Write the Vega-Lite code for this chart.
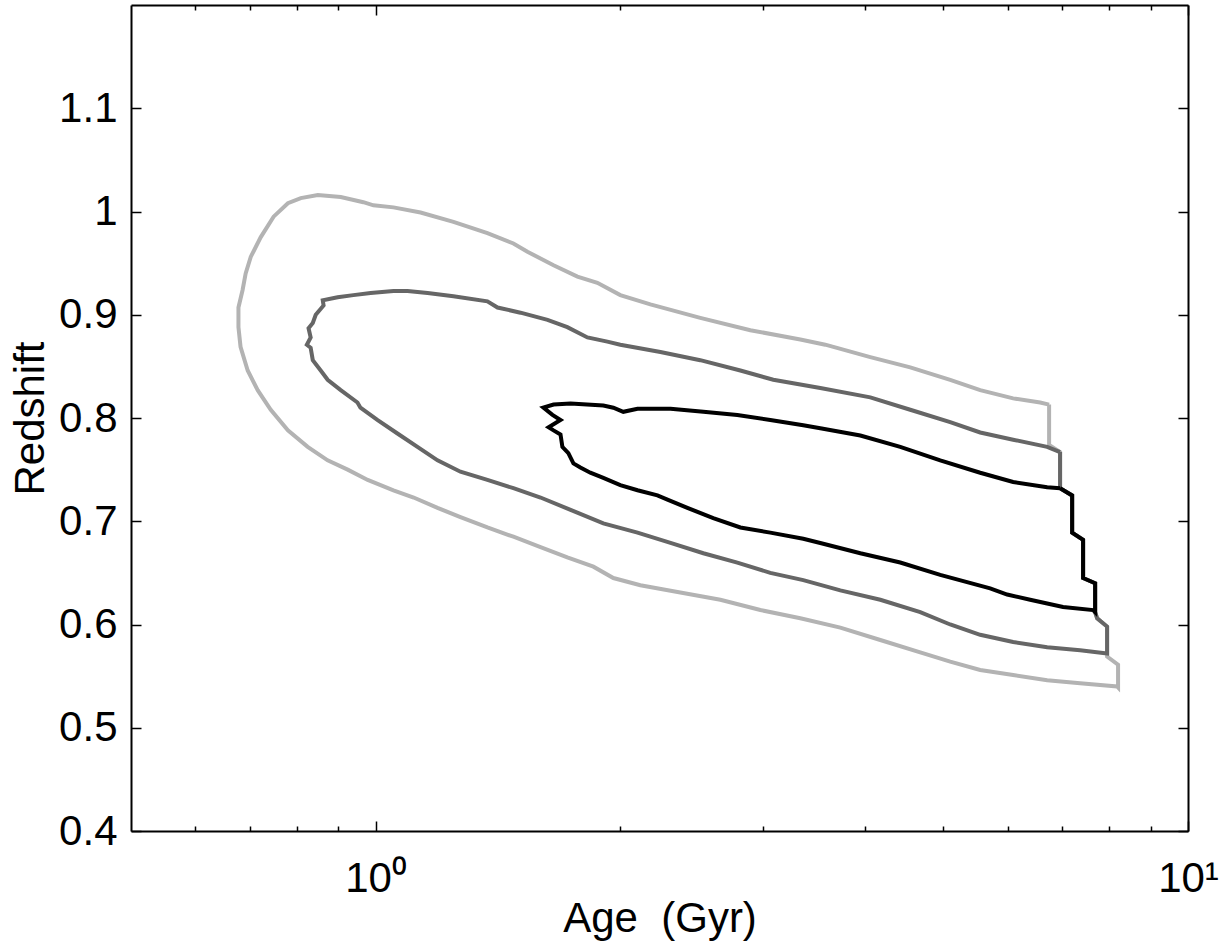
{
  "$schema": "https://vega.github.io/schema/vega-lite/v6.json",
  "width": 1057,
  "height": 826,
  "autosize": {"type": "none"},
  "padding": {"left": 131, "top": 5, "right": 37, "bottom": 118},
  "background": "white",
  "config": {"view": {"stroke": null}, "font": "Liberation Sans"},
  "data": {"name": "contours"},
  "datasets": {
    "contours": [
      {"c": "outer", "i": 1, "age": 6.746, "z": 0.813},
      {"c": "outer", "i": 2, "age": 6.577, "z": 0.815},
      {"c": "outer", "i": 3, "age": 6.092, "z": 0.819},
      {"c": "outer", "i": 4, "age": 5.549, "z": 0.827},
      {"c": "outer", "i": 5, "age": 5.097, "z": 0.837},
      {"c": "outer", "i": 6, "age": 4.551, "z": 0.849},
      {"c": "outer", "i": 7, "age": 4.064, "z": 0.859},
      {"c": "outer", "i": 8, "age": 3.577, "z": 0.871},
      {"c": "outer", "i": 9, "age": 3.333, "z": 0.876},
      {"c": "outer", "i": 10, "age": 2.893, "z": 0.885},
      {"c": "outer", "i": 11, "age": 2.510, "z": 0.897},
      {"c": "outer", "i": 12, "age": 2.179, "z": 0.910},
      {"c": "outer", "i": 13, "age": 2.001, "z": 0.919},
      {"c": "outer", "i": 14, "age": 1.875, "z": 0.931},
      {"c": "outer", "i": 15, "age": 1.772, "z": 0.937},
      {"c": "outer", "i": 16, "age": 1.656, "z": 0.948},
      {"c": "outer", "i": 17, "age": 1.538, "z": 0.961},
      {"c": "outer", "i": 18, "age": 1.478, "z": 0.969},
      {"c": "outer", "i": 19, "age": 1.373, "z": 0.979},
      {"c": "outer", "i": 20, "age": 1.247, "z": 0.990},
      {"c": "outer", "i": 21, "age": 1.136, "z": 0.999},
      {"c": "outer", "i": 22, "age": 1.052, "z": 1.004},
      {"c": "outer", "i": 23, "age": 0.994, "z": 1.006},
      {"c": "outer", "i": 24, "age": 0.966, "z": 1.009},
      {"c": "outer", "i": 25, "age": 0.906, "z": 1.014},
      {"c": "outer", "i": 26, "age": 0.849, "z": 1.016},
      {"c": "outer", "i": 27, "age": 0.809, "z": 1.013},
      {"c": "outer", "i": 28, "age": 0.780, "z": 1.008},
      {"c": "outer", "i": 29, "age": 0.749, "z": 0.995},
      {"c": "outer", "i": 30, "age": 0.722, "z": 0.975},
      {"c": "outer", "i": 31, "age": 0.702, "z": 0.956},
      {"c": "outer", "i": 32, "age": 0.692, "z": 0.940},
      {"c": "outer", "i": 33, "age": 0.686, "z": 0.924},
      {"c": "outer", "i": 34, "age": 0.678, "z": 0.907},
      {"c": "outer", "i": 35, "age": 0.678, "z": 0.888},
      {"c": "outer", "i": 36, "age": 0.682, "z": 0.869},
      {"c": "outer", "i": 37, "age": 0.696, "z": 0.846},
      {"c": "outer", "i": 38, "age": 0.716, "z": 0.827},
      {"c": "outer", "i": 39, "age": 0.743, "z": 0.808},
      {"c": "outer", "i": 40, "age": 0.780, "z": 0.788},
      {"c": "outer", "i": 41, "age": 0.825, "z": 0.772},
      {"c": "outer", "i": 42, "age": 0.873, "z": 0.759},
      {"c": "outer", "i": 43, "age": 0.924, "z": 0.750},
      {"c": "outer", "i": 44, "age": 0.978, "z": 0.740},
      {"c": "outer", "i": 45, "age": 1.052, "z": 0.730},
      {"c": "outer", "i": 46, "age": 1.114, "z": 0.723},
      {"c": "outer", "i": 47, "age": 1.192, "z": 0.713},
      {"c": "outer", "i": 48, "age": 1.272, "z": 0.704},
      {"c": "outer", "i": 49, "age": 1.373, "z": 0.694},
      {"c": "outer", "i": 50, "age": 1.478, "z": 0.685},
      {"c": "outer", "i": 51, "age": 1.596, "z": 0.675},
      {"c": "outer", "i": 52, "age": 1.722, "z": 0.665},
      {"c": "outer", "i": 53, "age": 1.854, "z": 0.656},
      {"c": "outer", "i": 54, "age": 1.962, "z": 0.645},
      {"c": "outer", "i": 55, "age": 2.118, "z": 0.638},
      {"c": "outer", "i": 56, "age": 2.372, "z": 0.631},
      {"c": "outer", "i": 57, "age": 2.657, "z": 0.624},
      {"c": "outer", "i": 58, "age": 2.976, "z": 0.614},
      {"c": "outer", "i": 59, "age": 3.333, "z": 0.606},
      {"c": "outer", "i": 60, "age": 3.733, "z": 0.597},
      {"c": "outer", "i": 61, "age": 4.181, "z": 0.585},
      {"c": "outer", "i": 62, "age": 4.682, "z": 0.573},
      {"c": "outer", "i": 63, "age": 5.097, "z": 0.564},
      {"c": "outer", "i": 64, "age": 5.549, "z": 0.556},
      {"c": "outer", "i": 65, "age": 6.092, "z": 0.551},
      {"c": "outer", "i": 66, "age": 6.709, "z": 0.546},
      {"c": "outer", "i": 67, "age": 7.366, "z": 0.543},
      {"c": "outer", "i": 68, "age": 8.179, "z": 0.540},
      {"c": "outer", "i": 69, "age": 8.202, "z": 0.539},
      {"c": "outer", "i": 70, "age": 8.202, "z": 0.561},
      {"c": "outer", "i": 71, "age": 7.951, "z": 0.569},
      {"c": "outer", "i": 72, "age": 7.951, "z": 0.598},
      {"c": "outer", "i": 73, "age": 7.730, "z": 0.606},
      {"c": "outer", "i": 74, "age": 7.686, "z": 0.612},
      {"c": "outer", "i": 75, "age": 7.686, "z": 0.640},
      {"c": "outer", "i": 76, "age": 7.428, "z": 0.645},
      {"c": "outer", "i": 77, "age": 7.428, "z": 0.682},
      {"c": "outer", "i": 78, "age": 7.201, "z": 0.689},
      {"c": "outer", "i": 79, "age": 7.201, "z": 0.725},
      {"c": "outer", "i": 80, "age": 6.959, "z": 0.732},
      {"c": "outer", "i": 81, "age": 6.959, "z": 0.767},
      {"c": "outer", "i": 82, "age": 6.746, "z": 0.774},
      {"c": "outer", "i": 83, "age": 6.746, "z": 0.813},

      {"c": "mid", "i": 1, "age": 6.959, "z": 0.767},
      {"c": "mid", "i": 2, "age": 6.709, "z": 0.772},
      {"c": "mid", "i": 3, "age": 6.092, "z": 0.779},
      {"c": "mid", "i": 4, "age": 5.549, "z": 0.786},
      {"c": "mid", "i": 5, "age": 5.097, "z": 0.796},
      {"c": "mid", "i": 6, "age": 4.551, "z": 0.808},
      {"c": "mid", "i": 7, "age": 4.064, "z": 0.820},
      {"c": "mid", "i": 8, "age": 3.527, "z": 0.829},
      {"c": "mid", "i": 9, "age": 3.087, "z": 0.837},
      {"c": "mid", "i": 10, "age": 2.812, "z": 0.846},
      {"c": "mid", "i": 11, "age": 2.510, "z": 0.856},
      {"c": "mid", "i": 12, "age": 2.242, "z": 0.864},
      {"c": "mid", "i": 13, "age": 2.001, "z": 0.871},
      {"c": "mid", "i": 14, "age": 1.929, "z": 0.874},
      {"c": "mid", "i": 15, "age": 1.823, "z": 0.878},
      {"c": "mid", "i": 16, "age": 1.722, "z": 0.888},
      {"c": "mid", "i": 17, "age": 1.628, "z": 0.895},
      {"c": "mid", "i": 18, "age": 1.508, "z": 0.902},
      {"c": "mid", "i": 19, "age": 1.413, "z": 0.907},
      {"c": "mid", "i": 20, "age": 1.373, "z": 0.913},
      {"c": "mid", "i": 21, "age": 1.247, "z": 0.918},
      {"c": "mid", "i": 22, "age": 1.159, "z": 0.921},
      {"c": "mid", "i": 23, "age": 1.095, "z": 0.923},
      {"c": "mid", "i": 24, "age": 1.052, "z": 0.923},
      {"c": "mid", "i": 25, "age": 0.986, "z": 0.921},
      {"c": "mid", "i": 26, "age": 0.939, "z": 0.919},
      {"c": "mid", "i": 27, "age": 0.898, "z": 0.917},
      {"c": "mid", "i": 28, "age": 0.861, "z": 0.914},
      {"c": "mid", "i": 29, "age": 0.863, "z": 0.909},
      {"c": "mid", "i": 30, "age": 0.844, "z": 0.900},
      {"c": "mid", "i": 31, "age": 0.837, "z": 0.892},
      {"c": "mid", "i": 32, "age": 0.827, "z": 0.887},
      {"c": "mid", "i": 33, "age": 0.832, "z": 0.878},
      {"c": "mid", "i": 34, "age": 0.823, "z": 0.871},
      {"c": "mid", "i": 35, "age": 0.832, "z": 0.868},
      {"c": "mid", "i": 36, "age": 0.837, "z": 0.856},
      {"c": "mid", "i": 37, "age": 0.856, "z": 0.846},
      {"c": "mid", "i": 38, "age": 0.873, "z": 0.837},
      {"c": "mid", "i": 39, "age": 0.906, "z": 0.827},
      {"c": "mid", "i": 40, "age": 0.950, "z": 0.815},
      {"c": "mid", "i": 41, "age": 0.958, "z": 0.810},
      {"c": "mid", "i": 42, "age": 1.006, "z": 0.798},
      {"c": "mid", "i": 43, "age": 1.064, "z": 0.785},
      {"c": "mid", "i": 44, "age": 1.126, "z": 0.772},
      {"c": "mid", "i": 45, "age": 1.192, "z": 0.759},
      {"c": "mid", "i": 46, "age": 1.272, "z": 0.748},
      {"c": "mid", "i": 47, "age": 1.373, "z": 0.740},
      {"c": "mid", "i": 48, "age": 1.478, "z": 0.732},
      {"c": "mid", "i": 49, "age": 1.596, "z": 0.723},
      {"c": "mid", "i": 50, "age": 1.738, "z": 0.711},
      {"c": "mid", "i": 51, "age": 1.907, "z": 0.698},
      {"c": "mid", "i": 52, "age": 2.101, "z": 0.689},
      {"c": "mid", "i": 53, "age": 2.307, "z": 0.679},
      {"c": "mid", "i": 54, "age": 2.532, "z": 0.669},
      {"c": "mid", "i": 55, "age": 2.788, "z": 0.660},
      {"c": "mid", "i": 56, "age": 3.061, "z": 0.650},
      {"c": "mid", "i": 57, "age": 3.361, "z": 0.643},
      {"c": "mid", "i": 58, "age": 3.733, "z": 0.633},
      {"c": "mid", "i": 59, "age": 4.181, "z": 0.624},
      {"c": "mid", "i": 60, "age": 4.682, "z": 0.612},
      {"c": "mid", "i": 61, "age": 5.097, "z": 0.600},
      {"c": "mid", "i": 62, "age": 5.549, "z": 0.590},
      {"c": "mid", "i": 63, "age": 6.092, "z": 0.583},
      {"c": "mid", "i": 64, "age": 6.709, "z": 0.578},
      {"c": "mid", "i": 65, "age": 7.366, "z": 0.575},
      {"c": "mid", "i": 66, "age": 7.951, "z": 0.572},
      {"c": "mid", "i": 67, "age": 7.951, "z": 0.598},
      {"c": "mid", "i": 68, "age": 7.730, "z": 0.606},
      {"c": "mid", "i": 69, "age": 7.686, "z": 0.612},
      {"c": "mid", "i": 70, "age": 7.686, "z": 0.640},
      {"c": "mid", "i": 71, "age": 7.428, "z": 0.645},
      {"c": "mid", "i": 72, "age": 7.428, "z": 0.682},
      {"c": "mid", "i": 73, "age": 7.201, "z": 0.689},
      {"c": "mid", "i": 74, "age": 7.201, "z": 0.725},
      {"c": "mid", "i": 75, "age": 6.959, "z": 0.732},
      {"c": "mid", "i": 76, "age": 6.959, "z": 0.767},

      {"c": "inner", "i": 1, "age": 6.959, "z": 0.732},
      {"c": "inner", "i": 2, "age": 6.709, "z": 0.733},
      {"c": "inner", "i": 3, "age": 6.092, "z": 0.738},
      {"c": "inner", "i": 4, "age": 5.549, "z": 0.747},
      {"c": "inner", "i": 5, "age": 4.955, "z": 0.759},
      {"c": "inner", "i": 6, "age": 4.424, "z": 0.772},
      {"c": "inner", "i": 7, "age": 3.951, "z": 0.783},
      {"c": "inner", "i": 8, "age": 3.527, "z": 0.790},
      {"c": "inner", "i": 9, "age": 3.361, "z": 0.793},
      {"c": "inner", "i": 10, "age": 3.061, "z": 0.798},
      {"c": "inner", "i": 11, "age": 2.788, "z": 0.803},
      {"c": "inner", "i": 12, "age": 2.532, "z": 0.806},
      {"c": "inner", "i": 13, "age": 2.307, "z": 0.809},
      {"c": "inner", "i": 14, "age": 2.101, "z": 0.809},
      {"c": "inner", "i": 15, "age": 2.018, "z": 0.806},
      {"c": "inner", "i": 16, "age": 1.962, "z": 0.810},
      {"c": "inner", "i": 17, "age": 1.907, "z": 0.812},
      {"c": "inner", "i": 18, "age": 1.738, "z": 0.814},
      {"c": "inner", "i": 19, "age": 1.656, "z": 0.813},
      {"c": "inner", "i": 20, "age": 1.609, "z": 0.810},
      {"c": "inner", "i": 21, "age": 1.651, "z": 0.803},
      {"c": "inner", "i": 22, "age": 1.689, "z": 0.798},
      {"c": "inner", "i": 23, "age": 1.633, "z": 0.791},
      {"c": "inner", "i": 24, "age": 1.656, "z": 0.788},
      {"c": "inner", "i": 25, "age": 1.689, "z": 0.784},
      {"c": "inner", "i": 26, "age": 1.698, "z": 0.772},
      {"c": "inner", "i": 27, "age": 1.727, "z": 0.766},
      {"c": "inner", "i": 28, "age": 1.752, "z": 0.756},
      {"c": "inner", "i": 29, "age": 1.787, "z": 0.752},
      {"c": "inner", "i": 30, "age": 1.838, "z": 0.747},
      {"c": "inner", "i": 31, "age": 1.907, "z": 0.742},
      {"c": "inner", "i": 32, "age": 2.001, "z": 0.735},
      {"c": "inner", "i": 33, "age": 2.101, "z": 0.730},
      {"c": "inner", "i": 34, "age": 2.223, "z": 0.725},
      {"c": "inner", "i": 35, "age": 2.287, "z": 0.721},
      {"c": "inner", "i": 36, "age": 2.420, "z": 0.713},
      {"c": "inner", "i": 37, "age": 2.604, "z": 0.703},
      {"c": "inner", "i": 38, "age": 2.812, "z": 0.694},
      {"c": "inner", "i": 39, "age": 3.061, "z": 0.689},
      {"c": "inner", "i": 40, "age": 3.361, "z": 0.683},
      {"c": "inner", "i": 41, "age": 3.527, "z": 0.679},
      {"c": "inner", "i": 42, "age": 3.951, "z": 0.669},
      {"c": "inner", "i": 43, "age": 4.424, "z": 0.660},
      {"c": "inner", "i": 44, "age": 4.955, "z": 0.648},
      {"c": "inner", "i": 45, "age": 5.708, "z": 0.635},
      {"c": "inner", "i": 46, "age": 5.990, "z": 0.629},
      {"c": "inner", "i": 47, "age": 6.393, "z": 0.624},
      {"c": "inner", "i": 48, "age": 7.018, "z": 0.617},
      {"c": "inner", "i": 49, "age": 7.642, "z": 0.614},
      {"c": "inner", "i": 50, "age": 7.686, "z": 0.612},
      {"c": "inner", "i": 51, "age": 7.686, "z": 0.640},
      {"c": "inner", "i": 52, "age": 7.428, "z": 0.645},
      {"c": "inner", "i": 53, "age": 7.428, "z": 0.682},
      {"c": "inner", "i": 54, "age": 7.201, "z": 0.689},
      {"c": "inner", "i": 55, "age": 7.201, "z": 0.725},
      {"c": "inner", "i": 56, "age": 6.959, "z": 0.732}
    ]
  },
  "layer": [
    {
      "encoding": {
        "x": {
          "field": "age", "type": "quantitative",
          "scale": {"type": "log", "domain": [0.5, 10], "nice": false},
          "axis": {
            "orient": "bottom",
            "values": [0.6, 0.7, 0.8, 0.9, 1, 2, 3, 4, 5, 6, 7, 8, 9, 10],
            "tickSize": {"condition": {"test": "datum.value == 1 || datum.value == 10", "value": -10}, "value": -5},
            "tickColor": "black", "tickWidth": 1.5,
            "domainColor": "black", "domainWidth": 2,
            "grid": false,
            "labelExpr": "datum.value == 1 ? '10⁰' : (datum.value == 10 ? '10¹' : '')",
            "labelFont": "Liberation Sans", "labelFontSize": 42, "labelColor": "black",
            "labelPadding": 37, "labelFlush": false, "labelOverlap": false, "labelBound": false,
            "title": "Age\u00a0 (Gyr)",
            "titleFont": "Liberation Sans", "titleFontSize": 42, "titleFontWeight": "normal", "titleColor": "black",
            "titleY": 100, "titleBaseline": "alphabetic"
          }
        },
        "y": {
          "field": "z", "type": "quantitative",
          "scale": {"domain": [0.4, 1.2], "nice": false, "zero": false},
          "axis": {
            "orient": "left",
            "values": [0.4, 0.5, 0.6, 0.7, 0.8, 0.9, 1.0, 1.1],
            "tickSize": -10,
            "tickColor": "black", "tickWidth": 1.5,
            "domainColor": "black", "domainWidth": 2,
            "grid": false,
            "format": "~g",
            "labelFont": "Liberation Sans", "labelFontSize": 42, "labelColor": "black",
            "labelPadding": 24, "labelFlush": false, "labelOverlap": false, "labelBound": false,
            "title": "Redshift",
            "titleFont": "Liberation Sans", "titleFontSize": 42, "titleFontWeight": "normal", "titleColor": "black",
            "titleX": -88, "titleBaseline": "alphabetic"
          }
        },
        "order": {"field": "i", "type": "quantitative"}
      },
      "layer": [
        {
          "transform": [{"filter": "datum.c == 'outer'"}],
          "mark": {"type": "line", "color": "#b3b3b3", "strokeWidth": 4}
        },
        {
          "transform": [{"filter": "datum.c == 'mid'"}],
          "mark": {"type": "line", "color": "#666666", "strokeWidth": 4}
        },
        {
          "transform": [{"filter": "datum.c == 'inner'"}],
          "mark": {"type": "line", "color": "#000000", "strokeWidth": 4}
        }
      ]
    },
    {
      "mark": {"type": "point", "opacity": 0},
      "encoding": {
        "x": {
          "field": "age", "type": "quantitative",
          "scale": {"type": "log", "domain": [0.5, 10], "nice": false},
          "axis": {
            "orient": "top",
            "values": [0.6, 0.7, 0.8, 0.9, 1, 2, 3, 4, 5, 6, 7, 8, 9, 10],
            "tickSize": {"condition": {"test": "datum.value == 1 || datum.value == 10", "value": -10}, "value": -5},
            "tickColor": "black", "tickWidth": 1.5,
            "domainColor": "black", "domainWidth": 2,
            "grid": false, "labels": false, "title": null
          }
        },
        "y": {
          "field": "z", "type": "quantitative",
          "scale": {"domain": [0.4, 1.2], "nice": false, "zero": false},
          "axis": {
            "orient": "right",
            "values": [0.4, 0.5, 0.6, 0.7, 0.8, 0.9, 1.0, 1.1],
            "tickSize": -10,
            "tickColor": "black", "tickWidth": 1.5,
            "domainColor": "black", "domainWidth": 2,
            "grid": false, "labels": false, "title": null
          }
        }
      }
    }
  ],
  "resolve": {"axis": {"x": "independent", "y": "independent"}}
}
